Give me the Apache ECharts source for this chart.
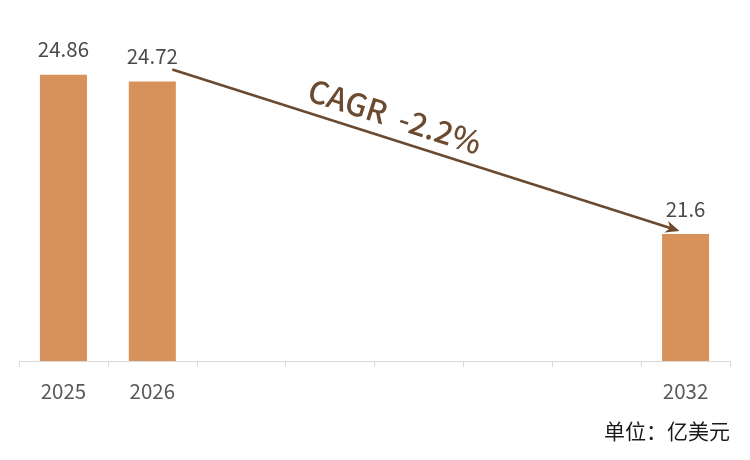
<!DOCTYPE html>
<html><head><meta charset="utf-8">
<script src="https://cdn.jsdelivr.net/npm/echarts@6/dist/echarts.min.js"></script>
<style>html,body{margin:0;padding:0;background:#fff}#c{width:750px;height:460px}</style>
</head><body><div id="c"></div>
<script>
const categories = ['2025','2026','2027','2028','2029','2030','2031','2032'];
const shownLabels = ['2025','2026','2032'];
const values = [24.86, 24.72, null, null, null, null, null, 21.6];
const cagrText = 'CAGR  -2.2%';
const unitText = '单位：亿美元';
const FONT = '"Noto Sans CJK SC","Noto Sans",sans-serif';
const chart = echarts.init(document.getElementById('c'));
const yMin = 19, yMax = 26;
const unitGraphic = {type:'text',right:20,top:421,style:{text:unitText,fill:'#1a1a1a',fontSize:21,fontFamily:FONT}};
chart.setOption({
  animation:false,
  grid:{left:19,right:20,top:19,bottom:99},
  xAxis:{type:'category',data:categories,
    axisLine:{lineStyle:{color:'#d9d9d9',width:1}},
    axisTick:{show:true,alignWithLabel:false,length:6,lineStyle:{color:'#d9d9d9'}},
    axisLabel:{interval:0,margin:20,color:'#595959',fontSize:20.5,fontFamily:FONT,
      formatter:v=>shownLabels.includes(v)?v:''}},
  yAxis:{type:'value',min:yMin,max:yMax,show:false,splitLine:{show:false}},
  series:[{type:'bar',data:values,barWidth:47,itemStyle:{color:'#D6925A'},
    label:{show:true,position:'top',distance:15,color:'#4a4a4a',fontSize:20.5,fontFamily:FONT}}],
  graphic:[unitGraphic]
});
const p1 = chart.convertToPixel({seriesIndex:0},[ '2026', values[1] ]);
const p2 = chart.convertToPixel({seriesIndex:0},[ '2032', values[7] ]);
const sx = p1[0]+20, sy = p1[1]-12, ex = p2[0]-6, ey = p2[1]-3;
const ang = Math.atan2(ey-sy, ex-sx);
const hl = 14, hw = 6;
const bx = ex - hl*Math.cos(ang), by = ey - hl*Math.sin(ang);
const nx = -Math.sin(ang), ny = Math.cos(ang);
const mx = sx + (ex-sx)*0.425, my = sy + (ey-sy)*0.425;
chart.setOption({graphic:[
  unitGraphic,
  {type:'line',shape:{x1:sx,y1:sy,x2:bx+hl*0.3*Math.cos(ang),y2:by+hl*0.3*Math.sin(ang)},style:{stroke:'#6B4A2F',lineWidth:2.5}},
  {type:'polygon',shape:{points:[[ex,ey],[bx+nx*hw,by+ny*hw],[bx+hl*0.3*Math.cos(ang),by+hl*0.3*Math.sin(ang)],[bx-nx*hw,by-ny*hw]]},style:{fill:'#6B4A2F'}},
  {type:'text',x:mx + Math.sin(ang)*23, y:my - Math.cos(ang)*23, rotation:-ang,
    style:{text:cagrText,fill:'#6B4A2F',fontSize:31,fontWeight:500,fontFamily:FONT,align:'center',verticalAlign:'middle'}}
]});
</script></body></html>
